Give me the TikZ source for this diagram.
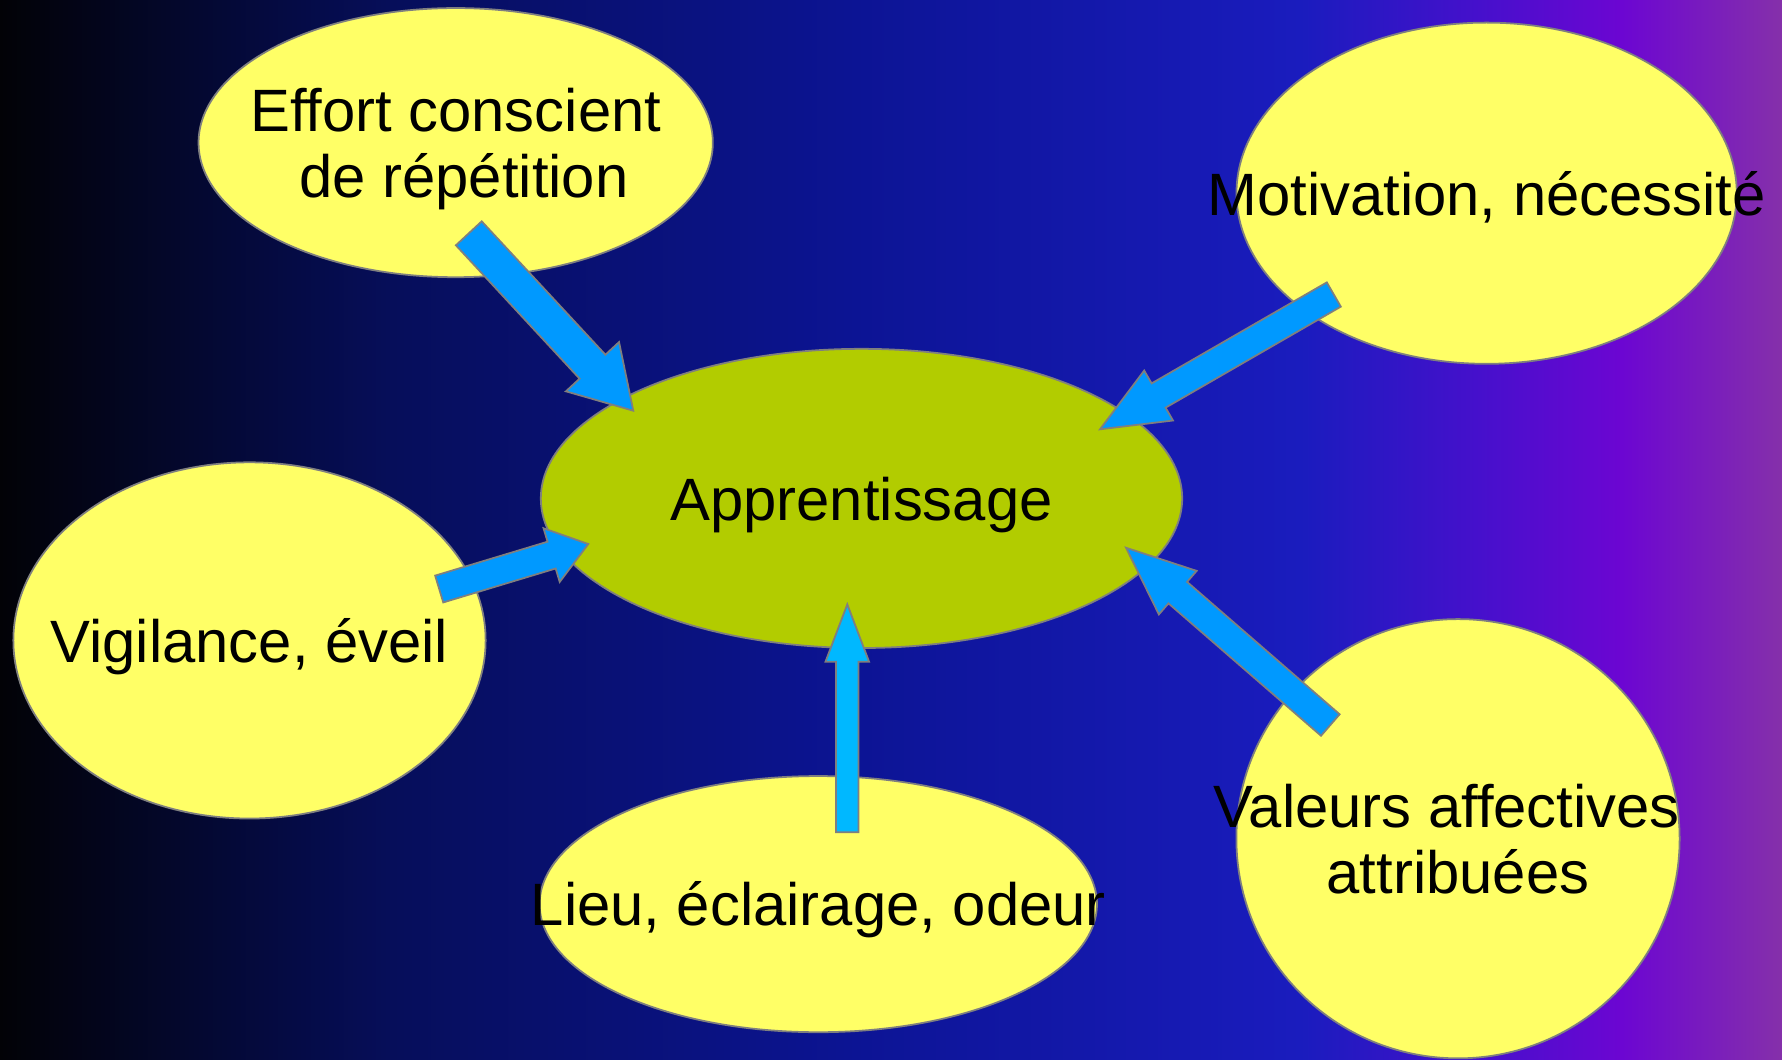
\documentclass[tikz,border=0pt]{standalone}
\usepackage{fontspec}
\setmainfont{Liberation Sans}
\usetikzlibrary{shapes.geometric,calc}

\definecolor{bgA}{HTML}{020206}
\definecolor{bgB}{HTML}{060E5A}
\definecolor{bgC}{HTML}{0C1494}
\definecolor{bgD}{HTML}{1A1CBE}
\definecolor{bgE}{HTML}{4610CC}
\definecolor{bgF}{HTML}{6C06D2}
\definecolor{bgG}{HTML}{8530AA}
\definecolor{bubbleyellow}{HTML}{FFFF66}
\definecolor{learngreen}{HTML}{B2CC00}
\definecolor{edgegray}{HTML}{7F7F7F}
\definecolor{arrowblue}{HTML}{0099FF}
\definecolor{arrowsky}{HTML}{00B8FF}

\pgfdeclarehorizontalshading{backdrop}{100bp}{color(0bp)=(bgA); color(25bp)=(bgA); color(36bp)=(bgB); color(49bp)=(bgC); color(61.5bp)=(bgD); color(66.5bp)=(bgE); color(70.5bp)=(bgF); color(75bp)=(bgG); color(100bp)=(bgG)}

\newcommand{\ctext}[1]{\makebox[0pt]{\raisebox{-2.4pt}[\height][\depth]{\begin{tabular}{@{}c@{}}#1\end{tabular}}}}
\newcommand{\blockarrow}[6]{%
	\coordinate (ba-h) at ($(#2)!#6!(#1)$);
	\draw[arrowbody, fill=#3] ($(#1)!#4!90:(#2)$) -- ($(ba-h)!#4!90:(#2)$) -- ($(ba-h)!#5!90:(#2)$) -- (#2) -- ($(ba-h)!#5!-90:(#2)$) -- ($(ba-h)!#4!-90:(#2)$) -- ($(#1)!#4!-90:(#2)$) -- cycle;
}

\begin{document}
\begin{tikzpicture}[x=0.01cm, y=-0.01cm,
	bubble/.style={ellipse, draw=edgegray, line width=0.5pt, fill=bubbleyellow, inner sep=0pt, font=\fontsize{17}{19}\selectfont},
	arrowbody/.style={draw=edgegray, line width=0.5pt, line join=miter}]
	\useasboundingbox (0,0) rectangle (1782,1059);
	\shade[shading=backdrop] (0,0) rectangle (1782,1059);

	\node[bubble, minimum width=5.14cm, minimum height=2.69cm] (effort) at (455.7,142.6) {\ctext{Effort conscient\\\hspace*{4.7pt}de répétition}};
	\node[bubble, minimum width=5.00cm, minimum height=3.41cm] (motiv) at (1486.6,193.2) {\ctext{Motivation, nécessité}};
	\node[bubble, fill=learngreen, minimum width=6.41cm, minimum height=2.99cm] (learn) at (861.5,498.4) {\ctext{Apprentissage}};
	\node[bubble, minimum width=4.72cm, minimum height=3.56cm] (vigil) at (249.5,640.4) {\ctext{Vigilance, éveil}};
	\node[bubble, minimum width=5.57cm, minimum height=2.56cm] (lieu) at (818.3,904.1) {\ctext{Lieu, éclairage, odeur}};
	\node[bubble, minimum width=4.43cm, minimum height=4.39cm] (valeurs) at (1458,838.7) {\ctext{Valeurs affectives\hspace*{6.5pt}\\attribuées}};

	\coordinate (effort-t) at (468.8,233.3);
	\coordinate (effort-p) at (633.3,410.7);
	\coordinate (motiv-t) at (1333.8,294.5);
	\coordinate (motiv-p) at (1100,429.3);
	\coordinate (vigil-t) at (439.2,589);
	\coordinate (vigil-p) at (588.3,544);
	\coordinate (lieu-t) at (847.2,832.3);
	\coordinate (lieu-p) at (847.3,604.3);
	\coordinate (valeurs-t) at (1330.3,725);
	\coordinate (valeurs-p) at (1126,547.7);

	\blockarrow{effort-t}{effort-p}{arrowblue}{1.76mm}{3.62mm}{6mm}
	\blockarrow{motiv-t}{motiv-p}{arrowblue}{1.4mm}{2.88mm}{6.76mm}
	\blockarrow{vigil-t}{vigil-p}{arrowblue}{1.4mm}{2.8mm}{3.83mm}
	\blockarrow{lieu-t}{lieu-p}{arrowsky}{1.12mm}{2.18mm}{5.74mm}
	\blockarrow{valeurs-t}{valeurs-p}{arrowblue}{1.42mm}{2.88mm}{6.85mm}
\end{tikzpicture}
\end{document}
